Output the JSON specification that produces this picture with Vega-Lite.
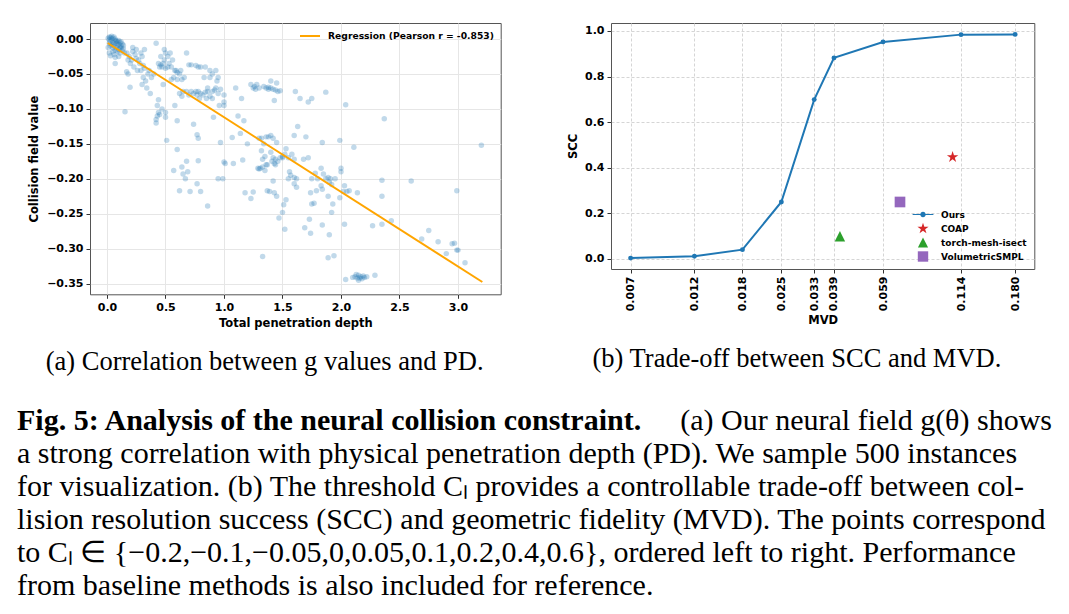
{
"$schema": "https://vega.github.io/schema/vega-lite/v6.json",
"background": "white",
"padding": {"left": 17, "top": 22, "right": 5, "bottom": 5},
"spacing": 30,
"config": {
  "view": {"stroke": "#555", "strokeWidth": 1},
  "axis": {"labelFont": "DejaVu Sans", "labelFontWeight": "bold", "labelFontSize": 11, "labelColor": "#000", "titleFont": "DejaVu Sans", "titleFontWeight": "bold", "titleFontSize": 11.5, "titleColor": "#000", "domain": false, "tickColor": "#333", "tickSize": 4, "tickWidth": 1, "labelPadding": 3, "gridColor": "#e6e6e6", "gridWidth": 1, "labelOverlap": false, "labelSeparation": 0},
  "legend": {"labelFont": "DejaVu Sans", "labelFontWeight": "bold", "labelFontSize": 9, "labelColor": "#000", "labelLimit": 400}
},
"datasets": {
  "scatter": [
{"pd":0.02,"g":0.003},{"pd":0.03,"g":0.002},{"pd":0.04,"g":0.004},{"pd":0.05,"g":0.001},{"pd":0.06,"g":0.003},{"pd":0.03,"g":-0.003},{"pd":0.05,"g":-0.005},{"pd":0.07,"g":-0.002},{"pd":0.08,"g":-0.006},{"pd":0.09,"g":-0.004},{"pd":0.1,"g":-0.008},{"pd":0.11,"g":-0.005},{"pd":0.12,"g":-0.01},{"pd":0.13,"g":-0.007},{"pd":0.04,"g":-0.008},{"pd":0.06,"g":-0.01},{"pd":0.08,"g":-0.012},{"pd":0.1,"g":-0.015},{"pd":0.12,"g":-0.013},{"pd":0.14,"g":-0.009},{"pd":0.02,"g":-0.006},{"pd":0.03,"g":-0.01},{"pd":0.05,"g":-0.013},{"pd":0.07,"g":-0.016},{"pd":0.09,"g":-0.018},{"pd":0.11,"g":-0.02},{"pd":0.13,"g":-0.016},{"pd":0.02,"g":-0.02},{"pd":0.03,"g":-0.024},{"pd":0.06,"g":-0.022},{"pd":0.1,"g":-0.025},{"pd":0.15,"g":-0.02},{"pd":0.04,"g":0.0},{"pd":0.06,"g":-0.006},{"pd":0.09,"g":-0.009},{"pd":0.11,"g":-0.012},
{"pd":0.01,"g":0.001},{"pd":0.02,"g":-0.001},{"pd":0.07,"g":0.0},{"pd":0.08,"g":-0.003},{"pd":0.1,"g":-0.002},{"pd":0.12,"g":-0.004},{"pd":0.05,"g":-0.018},{"pd":0.14,"g":-0.014},{"pd":0.01,"g":-0.012},{"pd":0.07,"g":-0.026},
{"pd":0.07,"g":-0.035},{"pd":0.154,"g":-0.104},{"pd":0.168,"g":-0.047},{"pd":0.197,"g":-0.069},{"pd":0.18,"g":-0.05},
{"pd":0.17,"g":-0.02},{"pd":0.19,"g":-0.025},{"pd":0.21,"g":-0.03},{"pd":0.22,"g":-0.018},{"pd":0.24,"g":-0.022},{"pd":0.25,"g":-0.028},{"pd":0.27,"g":-0.03},{"pd":0.28,"g":-0.035},{"pd":0.2,"g":-0.035},{"pd":0.23,"g":-0.04},{"pd":0.26,"g":-0.045},{"pd":0.22,"g":-0.012},{"pd":0.25,"g":-0.015},{"pd":0.18,"g":-0.03},{"pd":0.3,"g":-0.025},{"pd":0.31,"g":-0.038},{"pd":0.29,"g":-0.02},{"pd":0.32,"g":-0.015},
{"pd":0.29,"g":-0.045},{"pd":0.31,"g":-0.055},{"pd":0.33,"g":-0.06},{"pd":0.3,"g":-0.065},{"pd":0.35,"g":-0.05},{"pd":0.36,"g":-0.045},{"pd":0.38,"g":-0.055},{"pd":0.34,"g":-0.07},{"pd":0.4,"g":-0.05},{"pd":0.32,"g":-0.042},
{"pd":0.42,"g":-0.006},{"pd":0.37,"g":-0.078},
{"pd":0.44,"g":-0.035},{"pd":0.46,"g":-0.037},{"pd":0.47,"g":-0.04},{"pd":0.48,"g":-0.035},{"pd":0.45,"g":-0.04},{"pd":0.49,"g":-0.03},{"pd":0.5,"g":-0.042},{"pd":0.52,"g":-0.04},{"pd":0.53,"g":-0.035},{"pd":0.55,"g":-0.04},{"pd":0.5,"g":-0.02},{"pd":0.52,"g":-0.025},{"pd":0.49,"g":-0.015},{"pd":0.54,"g":-0.02},{"pd":0.46,"g":-0.025},{"pd":0.56,"g":-0.03},{"pd":0.58,"g":-0.045},{"pd":0.6,"g":-0.048},{"pd":0.62,"g":-0.05},{"pd":0.57,"g":-0.055},{"pd":0.64,"g":-0.058},{"pd":0.66,"g":-0.055},{"pd":0.6,"g":-0.058},{"pd":0.55,"g":-0.058},{"pd":0.59,"g":-0.045},{"pd":0.63,"g":-0.045},{"pd":0.68,"g":-0.02},{"pd":0.7,"g":-0.037},{"pd":0.72,"g":-0.037},{"pd":0.76,"g":-0.038},{"pd":0.78,"g":-0.04},{"pd":0.8,"g":-0.04},{"pd":0.84,"g":-0.04},{"pd":0.88,"g":-0.045},{"pd":0.9,"g":-0.05},{"pd":0.93,"g":-0.045},{"pd":0.95,"g":-0.055},{"pd":0.94,"g":-0.06},{"pd":0.88,"g":-0.055},{"pd":0.83,"g":-0.055},
{"pd":0.44,"g":-0.087},{"pd":0.43,"g":-0.095},{"pd":0.44,"g":-0.105},{"pd":0.43,"g":-0.11},{"pd":0.42,"g":-0.12},{"pd":0.45,"g":-0.108},{"pd":0.47,"g":-0.1},{"pd":0.5,"g":-0.105},{"pd":0.5,"g":-0.112},{"pd":0.42,"g":-0.115},
{"pd":0.51,"g":-0.145},{"pd":0.6,"g":-0.117},{"pd":0.58,"g":-0.095},{"pd":0.48,"g":-0.065},
{"pd":0.62,"g":-0.078},{"pd":0.65,"g":-0.075},{"pd":0.68,"g":-0.075},{"pd":0.7,"g":-0.08},{"pd":0.72,"g":-0.075},{"pd":0.74,"g":-0.078},{"pd":0.76,"g":-0.075},{"pd":0.77,"g":-0.08},{"pd":0.78,"g":-0.075},{"pd":0.8,"g":-0.078},{"pd":0.82,"g":-0.08},{"pd":0.84,"g":-0.076},{"pd":0.86,"g":-0.075},{"pd":0.88,"g":-0.082},{"pd":0.9,"g":-0.075},{"pd":0.92,"g":-0.073},{"pd":0.95,"g":-0.078},{"pd":0.97,"g":-0.072},{"pd":1.0,"g":-0.08},{"pd":0.64,"g":-0.082},{"pd":0.79,"g":-0.085},{"pd":0.85,"g":-0.085},{"pd":1.0,"g":-0.09},{"pd":1.0,"g":-0.095},{"pd":0.96,"g":-0.095},{"pd":0.93,"g":-0.07},{"pd":0.86,"g":-0.07},{"pd":0.9,"g":-0.085},
{"pd":0.74,"g":-0.122},{"pd":0.77,"g":-0.137},{"pd":0.78,"g":-0.142},{"pd":0.91,"g":-0.112},{"pd":0.97,"g":-0.148},{"pd":1.07,"g":-0.141},
{"pd":0.57,"g":-0.188},{"pd":0.6,"g":-0.158},{"pd":0.62,"g":-0.217},{"pd":0.64,"g":-0.183},{"pd":0.65,"g":-0.193},{"pd":0.67,"g":-0.2},{"pd":0.68,"g":-0.175},{"pd":0.69,"g":-0.19},{"pd":0.71,"g":-0.218},{"pd":0.77,"g":-0.207},{"pd":0.78,"g":-0.174},{"pd":0.8,"g":-0.218},{"pd":0.86,"g":-0.239},{"pd":0.95,"g":-0.2},{"pd":0.99,"g":-0.2},{"pd":1.0,"g":-0.176},{"pd":1.01,"g":-0.178},{"pd":1.08,"g":-0.178},
{"pd":1.1,"g":-0.07},{"pd":1.15,"g":-0.085},{"pd":1.12,"g":-0.11},{"pd":1.17,"g":-0.117},{"pd":1.14,"g":-0.135},{"pd":1.2,"g":-0.15},{"pd":1.16,"g":-0.173},{"pd":1.18,"g":-0.22},{"pd":1.23,"g":-0.228},{"pd":1.25,"g":-0.219},
{"pd":1.23,"g":-0.065},{"pd":1.26,"g":-0.068},{"pd":1.28,"g":-0.065},{"pd":1.3,"g":-0.07},{"pd":1.25,"g":-0.07},{"pd":1.27,"g":-0.072},{"pd":1.34,"g":-0.068},{"pd":1.36,"g":-0.07},{"pd":1.38,"g":-0.069},{"pd":1.4,"g":-0.07},{"pd":1.42,"g":-0.072},{"pd":1.44,"g":-0.073},{"pd":1.46,"g":-0.075},{"pd":1.48,"g":-0.074},{"pd":1.38,"g":-0.072},{"pd":1.4,"g":-0.06},{"pd":1.45,"g":-0.063},{"pd":1.43,"g":-0.088},
{"pd":1.3,"g":-0.142},{"pd":1.32,"g":-0.142},{"pd":1.36,"g":-0.14},{"pd":1.38,"g":-0.14},{"pd":1.34,"g":-0.15},{"pd":1.32,"g":-0.16},{"pd":1.35,"g":-0.168},{"pd":1.33,"g":-0.172},{"pd":1.36,"g":-0.18},{"pd":1.29,"g":-0.185},{"pd":1.31,"g":-0.185},{"pd":1.33,"g":-0.183},{"pd":1.37,"g":-0.18},{"pd":1.35,"g":-0.188},{"pd":1.3,"g":-0.186},
{"pd":1.4,"g":-0.138},{"pd":1.42,"g":-0.142},{"pd":1.45,"g":-0.148},{"pd":1.4,"g":-0.162},{"pd":1.42,"g":-0.17},{"pd":1.44,"g":-0.172},{"pd":1.46,"g":-0.175},{"pd":1.41,"g":-0.175},{"pd":1.43,"g":-0.178},{"pd":1.44,"g":-0.18},{"pd":1.48,"g":-0.17},{"pd":1.5,"g":-0.168},{"pd":1.52,"g":-0.165},{"pd":1.53,"g":-0.157},{"pd":1.5,"g":-0.17},{"pd":1.55,"g":-0.17},{"pd":1.56,"g":-0.19},{"pd":1.57,"g":-0.195},{"pd":1.6,"g":-0.198},{"pd":1.42,"g":-0.203},{"pd":1.39,"g":-0.218},{"pd":1.37,"g":-0.217},{"pd":1.43,"g":-0.22},{"pd":1.45,"g":-0.225},{"pd":1.47,"g":-0.256},{"pd":1.5,"g":-0.248},{"pd":1.51,"g":-0.237},{"pd":1.53,"g":-0.23},{"pd":1.52,"g":-0.272},{"pd":1.33,"g":-0.311},{"pd":1.58,"g":-0.165},{"pd":1.55,"g":-0.2},{"pd":1.6,"g":-0.172},
{"pd":1.61,"g":-0.075},{"pd":1.65,"g":-0.085},{"pd":1.72,"g":-0.09},{"pd":1.75,"g":-0.085},{"pd":1.87,"g":-0.076},{"pd":2.04,"g":-0.094},{"pd":1.63,"g":-0.125},{"pd":1.6,"g":-0.138},{"pd":1.7,"g":-0.14},{"pd":1.84,"g":-0.148},{"pd":1.99,"g":-0.145},{"pd":2.11,"g":-0.155},{"pd":1.68,"g":-0.172},{"pd":1.72,"g":-0.17},{"pd":1.62,"g":-0.2},{"pd":1.62,"g":-0.212},{"pd":1.6,"g":-0.207},{"pd":1.69,"g":-0.27},{"pd":1.74,"g":-0.278},{"pd":1.73,"g":-0.258},{"pd":1.74,"g":-0.22},{"pd":1.75,"g":-0.236},{"pd":1.77,"g":-0.235},{"pd":1.79,"g":-0.217},{"pd":1.75,"g":-0.2},{"pd":1.78,"g":-0.192},{"pd":1.8,"g":-0.2},{"pd":1.83,"g":-0.185},{"pd":1.85,"g":-0.193},{"pd":1.83,"g":-0.21},{"pd":1.84,"g":-0.215},{"pd":1.87,"g":-0.2},{"pd":1.89,"g":-0.198},{"pd":1.9,"g":-0.205},{"pd":1.91,"g":-0.2},{"pd":1.92,"g":-0.208},{"pd":1.89,"g":-0.225},{"pd":1.93,"g":-0.236},{"pd":1.92,"g":-0.248},{"pd":1.9,"g":-0.28},{"pd":1.84,"g":-0.266},{"pd":1.89,"g":-0.313},{"pd":1.94,"g":-0.31},{"pd":2.03,"g":-0.265},{"pd":1.95,"g":-0.2},{"pd":2.0,"g":-0.185},{"pd":2.0,"g":-0.19},{"pd":2.03,"g":-0.21},{"pd":2.02,"g":-0.218},{"pd":2.05,"g":-0.218},{"pd":1.99,"g":-0.227},{"pd":2.07,"g":-0.217},{"pd":2.14,"g":-0.22},
{"pd":2.04,"g":-0.344},{"pd":2.1,"g":-0.341},{"pd":2.12,"g":-0.34},{"pd":2.14,"g":-0.342},{"pd":2.15,"g":-0.338},{"pd":2.16,"g":-0.342},{"pd":2.17,"g":-0.34},{"pd":2.18,"g":-0.343},{"pd":2.19,"g":-0.339},{"pd":2.13,"g":-0.337},{"pd":2.15,"g":-0.345},{"pd":2.2,"g":-0.341},{"pd":2.22,"g":-0.34},{"pd":2.29,"g":-0.338},
{"pd":2.37,"g":-0.114},{"pd":2.35,"g":-0.202},{"pd":2.35,"g":-0.225},{"pd":2.27,"g":-0.267},{"pd":2.35,"g":-0.265},{"pd":2.43,"g":-0.26},{"pd":2.6,"g":-0.203},{"pd":2.69,"g":-0.286},{"pd":2.75,"g":-0.274},{"pd":2.83,"g":-0.29},{"pd":2.9,"g":-0.307},{"pd":2.95,"g":-0.293},{"pd":2.97,"g":-0.292},{"pd":2.99,"g":-0.302},{"pd":3.0,"g":-0.302},{"pd":2.99,"g":-0.217},{"pd":3.06,"g":-0.32},{"pd":3.2,"g":-0.152}
  ],
  "regression": [
    {"pd": 0.006, "g": -0.0057, "series": "Regression (Pearson r = -0.853)"},
    {"pd": 3.208, "g": -0.3476, "series": "Regression (Pearson r = -0.853)"}
  ],
  "ours": [
    {"mvd": 0.007, "scc": 0.004}, {"mvd": 0.012, "scc": 0.012}, {"mvd": 0.018, "scc": 0.041},
    {"mvd": 0.025, "scc": 0.25}, {"mvd": 0.033, "scc": 0.699}, {"mvd": 0.039, "scc": 0.882},
    {"mvd": 0.059, "scc": 0.952}, {"mvd": 0.114, "scc": 0.984}, {"mvd": 0.18, "scc": 0.985}
  ],
  "baselines": [
    {"method": "COAP", "mvd": 0.1062, "scc": 0.447},
    {"method": "torch-mesh-isect", "mvd": 0.041, "scc": 0.1},
    {"method": "VolumetricSMPL", "mvd": 0.0681, "scc": 0.25}
  ],
  "caption": [
    {"line": 1, "part": "bold", "text": "Fig. 5: Analysis of the neural collision constraint."},
    {"line": 1, "part": "right", "text": "(a) Our neural field g(θ) shows"},
    {"line": 2, "part": "body", "text": "a strong correlation with physical penetration depth (PD). We sample 500 instances"},
    {"line": 3, "part": "body", "text": "for visualization. (b) The threshold Cₗ provides a controllable trade-off between col-"},
    {"line": 4, "part": "body", "text": "lision resolution success (SCC) and geometric fidelity (MVD). The points correspond"},
    {"line": 5, "part": "body", "text": "to Cₗ ∈ {−0.2,−0.1,−0.05,0,0.05,0.1,0.2,0.4,0.6}, ordered left to right. Performance"},
    {"line": 6, "part": "body", "text": "from baseline methods is also included for reference."}
  ]
},
"vconcat": [
  {
    "bounds": "flush",
    "spacing": 110,
    "resolve": {"scale": {"color": "independent", "shape": "independent"}},
    "hconcat": [
      {
        "width": 410.7,
        "height": 271.3,
        "title": {"text": "(a) Correlation between g values and PD.", "orient": "bottom", "anchor": "middle", "frame": "bounds", "font": "Liberation Serif", "fontSize": 26.5, "fontWeight": "normal", "color": "#000", "offset": 20},
        "encoding": {
          "x": {"field": "pd", "type": "quantitative", "scale": {"domain": [-0.1453, 3.365], "nice": false, "zero": false}, "axis": {"title": "Total penetration depth", "values": [0, 0.5, 1, 1.5, 2, 2.5, 3], "format": ".1f", "titlePadding": 5, "labelOverlap": false}},
          "y": {"field": "g", "type": "quantitative", "scale": {"domain": [-0.3652, 0.0229], "nice": false, "zero": false}, "axis": {"title": "Collision field value", "values": [-0.35, -0.3, -0.25, -0.2, -0.15, -0.1, -0.05, 0], "format": ".2f", "titlePadding": 7, "labelOverlap": false, "labelSeparation": 0}}
        },
        "layer": [
          {
            "data": {"name": "scatter"},
            "mark": {"type": "point", "filled": true, "shape": "circle", "size": 30, "color": "#1f77b4", "opacity": 0.28, "strokeWidth": 0}
          },
          {
            "data": {"name": "regression"},
            "mark": {"type": "line", "strokeWidth": 2},
            "encoding": {
              "color": {"field": "series", "type": "nominal", "scale": {"range": ["#ffa500"]}, "legend": {"title": null, "orient": "none", "legendX": 209, "legendY": 2, "padding": 0, "symbolType": "stroke", "symbolSize": 400, "symbolStrokeWidth": 2, "labelOffset": 7, "labelFontSize": 9.2, "labelLimit": 400}}
            }
          }
        ]
      },
      {
        "width": 423.3,
        "height": 246,
        "title": {"text": "(b) Trade-off between SCC and MVD.", "orient": "bottom", "anchor": "middle", "frame": "bounds", "font": "Liberation Serif", "fontSize": 26.5, "fontWeight": "normal", "color": "#000", "offset": 20, "dx": -4},
        "encoding": {
          "x": {"field": "mvd", "type": "quantitative", "scale": {"type": "log", "domain": [0.005932, 0.2117], "nice": false}, "axis": {"title": "MVD", "values": [0.007, 0.012, 0.018, 0.025, 0.033, 0.039, 0.059, 0.114, 0.18], "format": ".3f", "labelAngle": 270, "labelAlign": "right", "labelBaseline": "middle", "gridDash": [3, 2], "gridColor": "#d5d5d5", "titlePadding": 4, "labelOverlap": false}},
          "y": {"field": "scc", "type": "quantitative", "scale": {"domain": [-0.0439, 1.035], "nice": false, "zero": false}, "axis": {"title": "SCC", "values": [0, 0.2, 0.4, 0.6, 0.8, 1], "format": ".1f", "gridDash": [3, 2], "gridColor": "#d5d5d5", "titlePadding": 6, "labelOverlap": false}}
        },
        "layer": [
          {
            "data": {"name": "ours"},
            "mark": {"type": "line", "color": "#1f77b4", "strokeWidth": 2, "point": {"filled": true, "size": 24, "color": "#1f77b4"}}
          },
          {
            "data": {"name": "baselines"},
            "mark": {"type": "point", "filled": true, "opacity": 1, "size": 178, "strokeWidth": 0},
            "encoding": {
              "color": {"field": "method", "type": "nominal", "scale": {"domain": ["Ours", "COAP", "torch-mesh-isect", "VolumetricSMPL"], "range": ["#1f77b4", "#d62728", "#2ca02c", "#9467bd"]}, "legend": {"title": null, "orient": "none", "legendX": 305.5, "legendY": 185, "padding": 0, "symbolSize": 169, "symbolStrokeWidth": 0, "labelOffset": 11.5, "rowPadding": 2}},
              "shape": {"field": "method", "type": "nominal", "scale": {"domain": ["Ours", "COAP", "torch-mesh-isect", "VolumetricSMPL"], "range": ["M-1.6,-0.08H1.6V0.08H-1.6ZM-0.42,0A0.42,0.42 0 1,1 0.42,0A0.42,0.42 0 1,1 -0.42,0Z", "M0,-0.9L0.202,-0.278L0.856,-0.278L0.327,0.106L0.529,0.728L0,0.344L-0.529,0.728L-0.327,0.106L-0.856,-0.278L-0.202,-0.278Z", "M0,-0.78L0.78,0.78L-0.78,0.78Z", "M-0.8,-0.8H0.8V0.8H-0.8Z"]}, "legend": {"title": null, "orient": "none", "legendX": 305.5, "legendY": 185, "padding": 0, "symbolSize": 169, "symbolStrokeWidth": 0, "labelOffset": 11.5, "rowPadding": 2}}
            }
          }
        ]
      }
    ]
  },
  {
    "width": 900,
    "height": 165,
    "view": {"stroke": null},
    "data": {"name": "caption"},
    "layer": [
      {
        "transform": [{"filter": "datum.part == 'bold'"}],
        "mark": {"type": "text", "align": "left", "baseline": "alphabetic", "x": -73, "font": "Liberation Serif", "fontSize": 30, "fontWeight": "bold", "color": "#000"},
        "encoding": {"y": {"field": "line", "type": "quantitative", "scale": {"domain": [1, 6], "reverse": true, "nice": false, "zero": false}, "axis": null}, "text": {"field": "text"}}
      },
      {
        "transform": [{"filter": "datum.part == 'right'"}],
        "mark": {"type": "text", "align": "right", "baseline": "alphabetic", "x": 962, "font": "Liberation Serif", "fontSize": 30, "fontWeight": "normal", "color": "#000"},
        "encoding": {"y": {"field": "line", "type": "quantitative"}, "text": {"field": "text"}}
      },
      {
        "transform": [{"filter": "datum.part == 'body'"}],
        "mark": {"type": "text", "align": "left", "baseline": "alphabetic", "x": -73, "font": "Liberation Serif", "fontSize": 30, "fontWeight": "normal", "color": "#000"},
        "encoding": {"y": {"field": "line", "type": "quantitative"}, "text": {"field": "text"}}
      }
    ]
  }
]
}
